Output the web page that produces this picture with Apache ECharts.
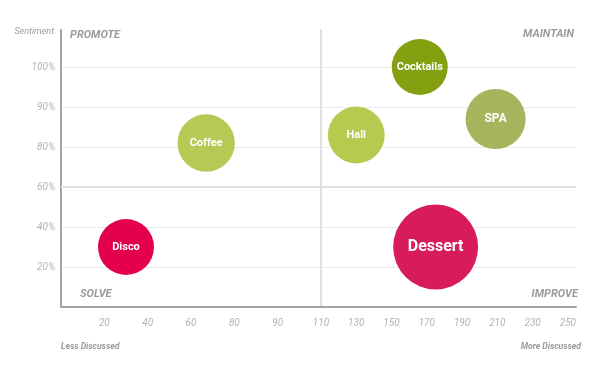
<!DOCTYPE html>
<html><head><meta charset="utf-8">
<script src="https://cdn.jsdelivr.net/npm/echarts@6/dist/echarts.min.js"></script>
<style>html,body{margin:0;padding:0;background:#fff}#c{width:600px;height:377px}</style>
</head><body><div id="c"></div>
<script>
// ---- data ----
const names = ['Disco', 'Coffee', 'Hall', 'Cocktails', 'SPA', 'Dessert'];
const discussed = [30, 67, 130, 166, 209, 175];
const sentiment = [30, 81, 83, 100, 87, 30];
const volume = [100, 105, 103, 100, 115, 230];
const colors = ['#e4004f', '#b6c955', '#b5cb50', '#84a010', '#a4b55e', '#d81b5a'];
const xTicksLeft = [0, 20, 40, 60, 80, 90, 110];
const xTicksRight = [110, 130, 150, 170, 190, 210, 230, 250];
const yTicks = [0, 20, 40, 60, 80, 90, 100];
const splitX = 110;
const splitY = 60;

// piecewise scale: value -> tick slot index
function toSlot(v, ticks) {
  for (let i = 0; i < ticks.length - 1; i++) {
    if (v <= ticks[i + 1] || i === ticks.length - 2) {
      return i + (v - ticks[i]) / (ticks[i + 1] - ticks[i]);
    }
  }
}

const FONT = 'Roboto';
const leftData = [], rightData = [];
names.forEach((n, i) => {
  const left = discussed[i] <= splitX;
  const xs = left ? toSlot(discussed[i], xTicksLeft) : toSlot(discussed[i], xTicksRight);
  const item = {
    name: n,
    value: [xs, toSlot(sentiment[i], yTicks), volume[i]],
    itemStyle: { color: colors[i], opacity: 1 },
    label: { fontSize: Math.round(Math.sqrt(volume[i]) * 1.08) }
  };
  (left ? leftData : rightData).push(item);
});

const yMax = 6.925;
const splitColors = ['#ebebeb', '#ebebeb', '#ebebeb', '#ebebeb', '#ebebeb', '#ebebeb', '#ebebeb', 'rgba(0,0,0,0)'];
const tickLabelStyle = { color: '#b3b3b3', fontStyle: 'italic', fontFamily: FONT, fontSize: 10 };

function yAxisCfg(isLeft) {
  return {
    type: 'value', gridIndex: isLeft ? 0 : 1, min: 0, max: yMax, interval: 1,
    axisLine: { show: true, lineStyle: isLeft ? { color: '#a3a3a3', width: 2 } : { color: '#e0e0e0', width: 2 } },
    axisTick: { show: false },
    axisLabel: Object.assign({
      show: isLeft, margin: 6,
      formatter: v => (Number.isInteger(v) && v >= 1 && v < yTicks.length) ? yTicks[v] + '%' : ''
    }, tickLabelStyle),
    splitLine: { show: true, lineStyle: { color: splitColors, width: 1 } }
  };
}
function xAxisCfg(isLeft) {
  const ticks = isLeft ? xTicksLeft : xTicksRight;
  return {
    type: 'value', gridIndex: isLeft ? 0 : 1, min: 0,
    max: isLeft ? ticks.length - 1 : ticks.length - 1 + 0.23, interval: 1,
    axisLine: { show: true, lineStyle: { color: '#a3a3a3', width: 2 } },
    axisTick: { show: false },
    splitLine: { show: false },
    axisLabel: Object.assign({
      margin: 11,
      formatter: v => (Number.isInteger(v) && v >= 1 && v < ticks.length) ? String(ticks[v]) : ''
    }, tickLabelStyle)
  };
}

const markLine = {
  silent: true, symbol: ['none', 'none'], label: { show: false },
  lineStyle: { color: '#e0e0e0', width: 2, type: 'solid' },
  data: [{ yAxis: toSlot(splitY, yTicks) }], z: 1
};
function seriesCfg(data, idx) {
  return {
    type: 'scatter', xAxisIndex: idx, yAxisIndex: idx, data: data, clip: false,
    symbolSize: v => Math.sqrt(v[2]) * 5.6,
    label: { show: true, position: 'inside', formatter: p => p.name, color: '#fff', fontWeight: 'bold', fontFamily: FONT },
    emphasis: { disabled: true },
    markLine: markLine, z: 3
  };
}

function txt(text, x, y, size, align, bold) {
  return {
    type: 'text', x: x, y: y, silent: true,
    style: {
      text: text, fill: '#9b9b9b', textAlign: align, align: align, textVerticalAlign: 'middle', verticalAlign: 'middle',
      font: 'italic ' + (bold ? 'bold ' : '') + size + 'px ' + FONT
    }
  };
}

const chart = echarts.init(document.getElementById('c'));
chart.setOption({
  animation: false,
  grid: [
    { left: 61, top: 30, bottom: 70, width: 260 },
    { left: 321, top: 30, bottom: 70, right: 24 }
  ],
  xAxis: [xAxisCfg(true), xAxisCfg(false)],
  yAxis: [yAxisCfg(true), yAxisCfg(false)],
  series: [seriesCfg(leftData, 0), seriesCfg(rightData, 1)],
  graphic: [
    txt('Sentiment', 54, 32, 9, 'right', false),
    txt('PROMOTE', 70, 35, 11, 'left', true),
    txt('MAINTAIN', 574, 34, 11, 'right', true),
    txt('SOLVE', 80, 294, 11, 'left', true),
    txt('IMPROVE', 578, 294, 11, 'right', true),
    txt('Less Discussed', 61, 347, 8.6, 'left', true),
    txt('More Discussed', 581, 347, 8.6, 'right', true)
  ]
});
</script></body></html>
